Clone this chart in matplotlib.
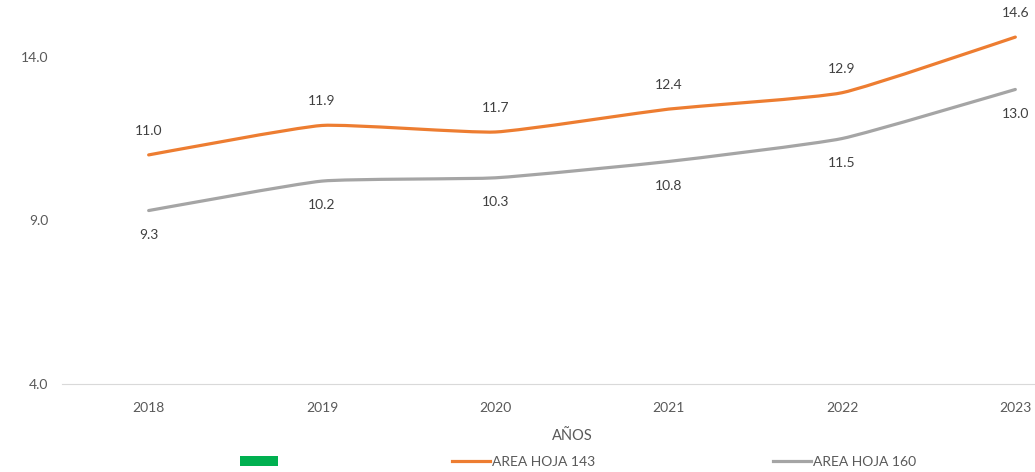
import numpy as np
import matplotlib.pyplot as plt
from matplotlib.path import Path
from matplotlib.patches import PathPatch, Patch
from matplotlib.lines import Line2D

# ---- data ----
years = ["2018", "2019", "2020", "2021", "2022", "2023"]
hoja_143 = [11.0, 11.9, 11.7, 12.4, 12.9, 14.6]
hoja_160 = [9.3, 10.2, 10.3, 10.8, 11.5, 13.0]

ORANGE, GREY, GREEN = "#ED7D31", "#A5A5A5", "#00B050"
TXT = "#595959"

plt.rcParams["font.family"] = ["Lato", "DejaVu Sans"]


def smooth_path(xs, ys, t=0.45):
    # cubic bezier through the points (Excel-like smoothed line)
    p = np.column_stack([xs, ys]).astype(float)
    n = len(p)
    verts = [p[0]]
    codes = [Path.MOVETO]
    for i in range(n - 1):
        p0 = p[max(i - 1, 0)]
        p1, p2 = p[i], p[i + 1]
        p3 = p[min(i + 2, n - 1)]
        c1 = p1 + (p2 - p0) / 6 * t
        c2 = p2 - (p3 - p1) / 6 * t
        verts += [c1, c2, p2]
        codes += [Path.CURVE4] * 3
    return Path(verts, codes)


fig = plt.figure(figsize=(10.35, 4.72), dpi=100)
ax = fig.add_axes([62 / 1035, 1 - 384 / 472, 1040 / 1035, 360 / 472])

x = np.arange(len(years))
for vals, col in [(hoja_143, ORANGE), (hoja_160, GREY)]:
    ax.add_patch(PathPatch(smooth_path(x, vals), facecolor="none",
                           edgecolor=col, lw=2.3, capstyle="round"))

for xi, v in zip(x, hoja_143):
    ax.annotate(f"{v:.1f}", (xi, v), xytext=(0, 13), textcoords="offset points",
                ha="center", va="bottom", fontsize=10, color="#404040")
for xi, v in zip(x, hoja_160):
    ax.annotate(f"{v:.1f}", (xi, v), xytext=(0, -13), textcoords="offset points",
                ha="center", va="top", fontsize=10, color="#404040")

ax.set_xlim(-0.5, 5.5)
ax.set_ylim(4, 15)
ax.set_xticks(x)
ax.set_xticklabels(years)
ax.set_yticks([4, 9, 14])
ax.set_yticklabels(["4.0", "9.0", "14.0"])
ax.tick_params(length=0, labelsize=10, labelcolor=TXT)
ax.tick_params(axis="x", pad=13)
ax.tick_params(axis="y", pad=10)
for s in ["top", "right", "left"]:
    ax.spines[s].set_visible(False)
ax.spines["bottom"].set_color("#D9D9D9")

# axis title placed in figure coords
fig.text(572 / 1035, 1 - 436 / 472, "AÑOS", ha="center", va="center",
         fontsize=10.5, color=TXT)

# legend: three entries placed one by one
entries = [(Patch(facecolor=GREEN, edgecolor="none"), "", 240),
           (Line2D([], [], color=ORANGE, lw=2.3), "AREA HOJA 143", 452),
           (Line2D([], [], color=GREY, lw=2.3), "AREA HOJA 160", 773)]
for h, lab, x0 in entries:
    leg = fig.legend([h], [lab], loc="center left",
                     bbox_to_anchor=(x0 / 1035, 1 - 462 / 472),
                     frameon=False, fontsize=10, labelcolor=TXT,
                     handlelength=2.7, handletextpad=0.15,
                     borderaxespad=0, borderpad=0)

fig.savefig("out.png", dpi=100)
